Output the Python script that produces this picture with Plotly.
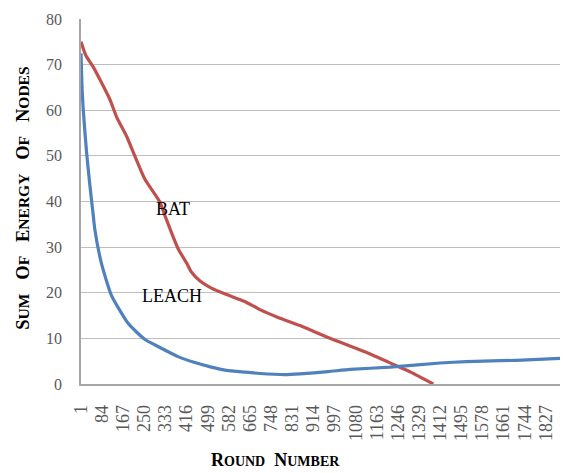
import plotly.graph_objects as go

# BAT series (round, energy)
bat_rounds = [1, 20, 49, 115, 141, 180, 251, 311, 330, 382, 416, 434, 470, 513, 573, 644, 704, 775, 861, 971, 1123, 1228, 1300, 1385]
bat_energy = [75, 72, 69.5, 62.3, 58.5, 54.3, 45, 39.9, 37, 29.7, 26.5, 24.6, 22.5, 21, 19.6, 18.1, 16.3, 14.6, 12.8, 10.2, 6.9, 4.3, 2.5, 0]

# LEACH series (round, energy)
leach_rounds = [1, 5, 10, 23, 35, 49, 55, 81, 120, 186, 251, 311, 382, 442, 513, 573, 644, 704, 801, 861, 971, 1058, 1215, 1411, 1516, 1712, 1913]
leach_energy = [72.5, 65, 60, 50.7, 44, 37, 34, 26.5, 19.5, 13.3, 9.8, 8, 6, 4.8, 3.7, 3.0, 2.6, 2.3, 2.05, 2.2, 2.7, 3.2, 3.7, 4.6, 4.9, 5.2, 5.7]

tick_rounds = [1, 84, 167, 250, 333, 416, 499, 582, 665, 748, 831, 914, 997, 1080, 1163, 1246, 1329, 1412, 1495, 1578, 1661, 1744, 1827]
tick_labels = [str(t) for t in tick_rounds]

serif = "Liberation Serif, Times New Roman, serif"

fig = go.Figure()
fig.add_trace(go.Scatter(x=bat_rounds, y=bat_energy, mode="lines", name="BAT",
                         line=dict(color="#C0504D", width=3.2, shape="spline", smoothing=0.5)))
fig.add_trace(go.Scatter(x=leach_rounds, y=leach_energy, mode="lines", name="LEACH",
                         line=dict(color="#4F81BD", width=3.2, shape="spline", smoothing=0.5)))

fig.add_annotation(x=362, y=38.4, text="BAT", showarrow=False,
                   font=dict(family=serif, size=18, color="black"))
fig.add_annotation(x=358, y=19.2, text="LEACH", showarrow=False,
                   font=dict(family=serif, size=18, color="black"))

NB = "\u00a0"

def smallcaps(words, small, gap):
    parts = []
    for w in words:
        parts.append(w[0] + f"<span style='font-size:{small}px'>{w[1:]}</span>")
    return (NB * gap).join(parts)

ytitle = smallcaps(["SUM", "OF", "ENERGY", "OF", "NODES"], 15.5, 3)
xtitle = smallcaps(["ROUND", "NUMBER"], 14, 2)

fig.add_annotation(xref="paper", yref="paper", x=-0.144, y=0.51, textangle=-90,
                   text="<b>" + ytitle + "</b>", showarrow=False,
                   font=dict(family=serif, size=18.5, color="black"))
fig.add_annotation(xref="paper", yref="paper", x=0.40, y=-0.206, yshift=-13,
                   text="<b>" + xtitle + "</b>", showarrow=False,
                   font=dict(family=serif, size=18, color="black"))

fig.update_layout(
    width=568, height=473,
    margin=dict(l=73, r=8, t=11, b=97, autoexpand=False),
    paper_bgcolor="white", plot_bgcolor="white",
    showlegend=False,
    font=dict(family=serif),
    xaxis=dict(
        range=[1, 1914], tickmode="array", tickvals=tick_rounds, ticktext=tick_labels,
        tickangle=-90, tickfont=dict(family=serif, size=18, color="#595959"),
        showgrid=False, zeroline=False, showline=True, linecolor="#A6A6A6", linewidth=1.5,
        ticks="", ticklabelstandoff=12, ticklabeloverflow="allow",
    ),
    yaxis=dict(
        range=[0, 80], dtick=10, tickfont=dict(family=serif, size=16, color="#595959"),
        showgrid=True, gridcolor="#BFBFBF", gridwidth=1.2, zeroline=False,
        showline=True, linecolor="#A6A6A6", linewidth=1.5, ticks="", ticklabelstandoff=14,
        ticklabeloverflow="allow",
    ),
)

fig.write_html("out.html")
